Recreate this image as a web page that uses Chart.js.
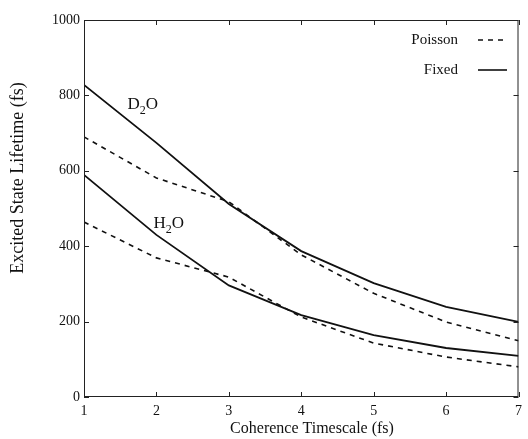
<!DOCTYPE html>
<html>
<head>
<meta charset="utf-8">
<script src="https://cdn.jsdelivr.net/npm/chart.js@4.4.0/dist/chart.umd.min.js"></script>
<style>
  body { margin: 0; background: #fff; }
  canvas { display: block; }
</style>
</head>
<body>
<canvas id="lifetimeChart" width="528" height="439"></canvas>
<script>
// values
const coherence = [1, 2, 3, 4, 5, 6, 7];
const d2oFixed = [828, 674, 512, 387, 302, 239, 199];
const d2oPoisson = [690, 581, 518, 377, 275, 199, 149];
const h2oFixed = [589, 430, 296, 217, 164, 130, 109];
const h2oPoisson = [464, 369, 318, 212, 143, 106, 80];
const legendLabels = ["Poisson", "Fixed"];
const yTicks = [0, 200, 400, 600, 800, 1000];
const xTitle = "Coherence Timescale (fs)";
const yTitle = "Excited State Lifetime (fs)";

const serif = "'Liberation Serif', 'DejaVu Serif', serif";
const ink = "#111";

const toPoints = (vals) => vals.map((v, i) => ({ x: coherence[i], y: v }));

const makeSet = (label, vals, dashed) => ({
    label: label,
    data: toPoints(vals),
    borderColor: ink,
    borderWidth: dashed ? 1.6 : 1.8,
    borderDash: dashed ? [5, 5] : [],
    pointRadius: 0,
    tension: 0,
    fill: false,
});

// frame, inward ticks, axis titles, legend and the D2O / H2O labels
const decorations = {
    id: "decorations",
    afterDraw(chart) {
        const { ctx, chartArea: a, scales } = chart;
        const x = scales.x;
        const y = scales.y;
        ctx.save();
        ctx.strokeStyle = "#222";
        ctx.lineWidth = 1;
        ctx.strokeRect(a.left + 0.5, a.top + 0.5, a.right - a.left - 1, a.bottom - a.top - 1);

        ctx.beginPath();
        x.ticks.forEach((t) => {
            const px = Math.round(x.getPixelForValue(t.value)) + 0.5;
            ctx.moveTo(px, a.bottom);
            ctx.lineTo(px, a.bottom - 5);
            ctx.moveTo(px, a.top);
            ctx.lineTo(px, a.top + 5);
        });
        y.ticks.forEach((t) => {
            const py = Math.round(y.getPixelForValue(t.value)) + 0.5;
            ctx.moveTo(a.left, py);
            ctx.lineTo(a.left + 5, py);
            ctx.moveTo(a.right, py);
            ctx.lineTo(a.right - 5, py);
        });
        ctx.stroke();

        // axis titles
        ctx.fillStyle = ink;
        ctx.textAlign = "center";
        ctx.textBaseline = "middle";
        ctx.font = "16px " + serif;
        ctx.fillText(xTitle, 312, 429);
        ctx.save();
        ctx.translate(18, 178);
        ctx.rotate(-Math.PI / 2);
        ctx.font = "18px " + serif;
        ctx.fillText(yTitle, 0, 0);
        ctx.restore();

        // legend
        ctx.font = "15px " + serif;
        ctx.textAlign = "right";
        ctx.lineWidth = 1.6;
        ctx.strokeStyle = ink;
        legendLabels.forEach((lab, i) => {
            const ly = 40 + i * 30;
            ctx.fillText(lab, 458, ly);
            ctx.setLineDash(i === 0 ? [5, 5] : []);
            ctx.beginPath();
            ctx.moveTo(478, ly);
            ctx.lineTo(507, ly);
            ctx.stroke();
        });
        ctx.setLineDash([]);

        // species labels with subscript
        const species = (big1, big2, vx, vy) => {
            let px = x.getPixelForValue(vx);
            const py = y.getPixelForValue(vy);
            ctx.textAlign = "left";
            ctx.textBaseline = "alphabetic";
            ctx.font = "17px " + serif;
            ctx.fillText(big1, px, py);
            px += ctx.measureText(big1).width;
            ctx.font = "12px " + serif;
            ctx.fillText("2", px, py + 5);
            px += ctx.measureText("2").width;
            ctx.font = "17px " + serif;
            ctx.fillText(big2, px, py);
        };
        species("D", "O", 1.6, 765);
        species("H", "O", 1.96, 448);
        ctx.restore();
    },
};

const chart = new Chart(document.getElementById("lifetimeChart"), {
    type: "line",
    data: {
        datasets: [
            makeSet("D2O Fixed", d2oFixed, false),
            makeSet("D2O Poisson", d2oPoisson, true),
            makeSet("H2O Fixed", h2oFixed, false),
            makeSet("H2O Poisson", h2oPoisson, true),
        ],
    },
    options: {
        responsive: false,
        animation: false,
        devicePixelRatio: 1,
        layout: { padding: { top: 20, right: 6, left: 0, bottom: 0 } },
        plugins: { legend: { display: false }, tooltip: { enabled: false } },
        scales: {
            x: {
                type: "linear",
                min: 1,
                max: 7,
                ticks: { stepSize: 1, color: ink, padding: 6, font: { family: serif, size: 14 } },
                grid: { display: false, drawTicks: false },
                border: { display: false },
                afterFit: (scale) => { scale.height = 42; },
            },
            y: {
                min: 0,
                max: 1000,
                afterBuildTicks: (scale) => { scale.ticks = yTicks.map((v) => ({ value: v })); },
                ticks: {
                    color: ink,
                    padding: 4,
                    font: { family: serif, size: 14 },
                    callback: (v) => String(v),
                },
                grid: { display: false, drawTicks: false },
                border: { display: false },
                afterFit: (scale) => { scale.width = 84; },
            },
        },
    },
    plugins: [decorations],
});
</script>
</body>
</html>
